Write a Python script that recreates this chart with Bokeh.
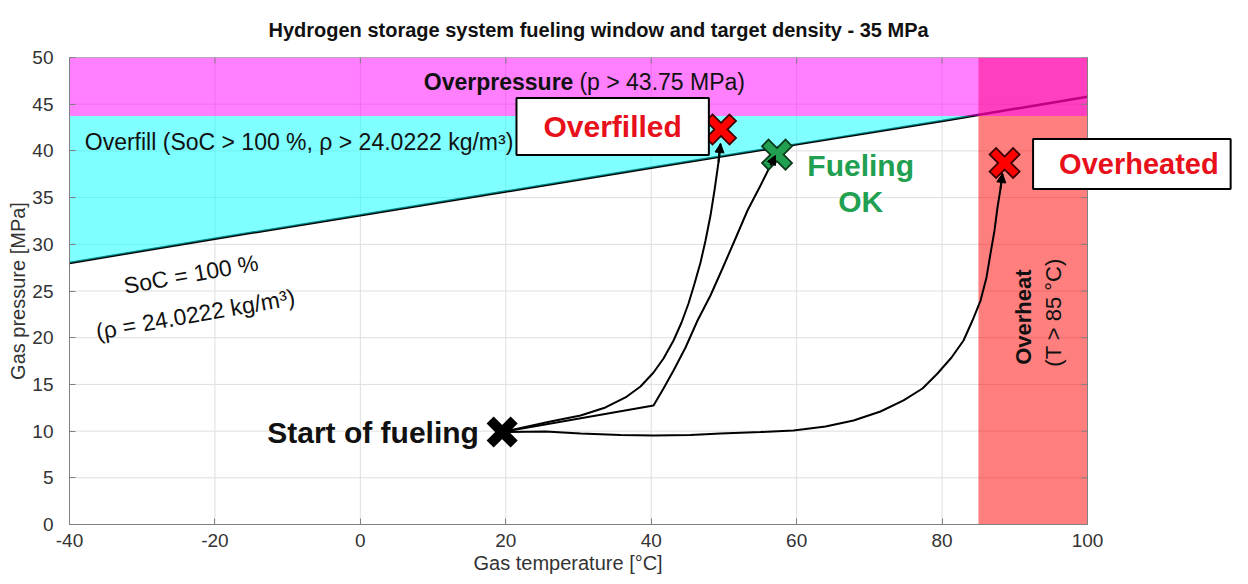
import numpy as np
from bokeh.plotting import figure
from bokeh.models import Range1d, FixedTicker, Label, Arrow, NormalHead, Title
from bokeh.core.properties import value
from bokeh.embed import file_html
from bokeh.resources import INLINE

# ---------------- data ----------------
title_text = "Hydrogen storage system fueling window and target density - 35 MPa"
x_label = "Gas temperature [°C]"
y_label = "Gas pressure [MPa]"
x_ticks = [-40, -20, 0, 20, 40, 60, 80, 100]
x_tick_labels = ["-40", "-20", "0", "20", "40", "60", "80", "100"]
y_ticks = [0, 5, 10, 15, 20, 25, 30, 35, 40, 45, 50]
t_min, t_max = -40, 100
p_min, p_max = 0, 50

# SoC = 100 % line (pressure vs temperature at target density)
soc_t = [-40, -20, 0, 20, 40, 60, 80, 100]
soc_p = [28.0, 30.6, 33.1, 35.65, 38.2, 40.7, 43.2, 45.8]

p_limit = 43.75   # overpressure limit [MPa]
t_limit = 85.0    # overheat limit [degC]

# fueling start and end states
start_t, start_p = 19.5, 9.9
end_names = ["Overfilled", "Fueling OK", "Overheated"]
end_t = [49.6, 57.3, 88.6]
end_p = [42.3, 39.6, 38.7]

# fueling trajectories
path_overfill_t = [19.5, 26.15, 30.28, 33.71, 36.46, 38.53, 40.32, 41.69, 43.07, 44.17, 45.13,
                   45.96, 46.78, 47.47, 48.15, 48.70, 49.25, 49.53]
path_overfill_p = [9.9, 11.03, 11.67, 12.53, 13.60, 14.78, 16.27, 17.77, 19.70, 21.63, 23.66,
                   25.80, 28.05, 30.41, 33.08, 35.76, 38.76, 40.79]
path_ok_t = [19.5, 40.32, 41.69, 43.07, 44.72, 46.37, 48.15, 49.80, 51.59, 53.24, 55.03, 56.40, 57.08]
path_ok_p = [9.9, 12.74, 14.56, 16.49, 18.95, 21.84, 24.52, 27.41, 30.62, 33.62, 36.30, 38.44, 39.51]
path_heat_t = [19.5, 25.46, 30.28, 35.78, 40.32, 45.40, 49.53, 55.03, 59.57, 63.97, 67.82, 71.53,
               74.70, 77.31, 79.37, 81.30, 82.95, 84.18, 85.29, 86.11, 86.66, 87.21, 87.62, 88.04, 88.31]
path_heat_p = [9.9, 9.96, 9.74, 9.58, 9.53, 9.58, 9.74, 9.90, 10.06, 10.49, 11.13, 12.10,
               13.28, 14.56, 16.17, 17.88, 19.70, 21.84, 23.98, 26.45, 29.01, 31.48, 33.94, 35.97, 37.58]

FONT = "Liberation Sans"
RED = "#E8101A"
GREEN = "#20A050"
AX = "#808080"
TXT = "#333333"

# frame: x=-40 at px 69, x=100 at px 1087, y=50 at px 57, y=0 at px 524; the frame is
# extended to the canvas edge so the "Overheated" box (outside the axes) is not clipped
W, H = 1232, 576
left_px, right_px, top_px, bottom_px = 69, 1087, 57, 524
px_per_x = (right_px - left_px) / (t_max - t_min)
px_per_y = (bottom_px - top_px) / (p_max - p_min)
x_end = t_min + (W - left_px) / px_per_x

p = figure(width=W, height=H, output_backend="svg", toolbar_location=None,
           x_range=Range1d(t_min, x_end), y_range=Range1d(p_min, p_max),
           min_border_left=left_px, min_border_right=0, min_border_top=top_px,
           min_border_bottom=H - bottom_px)
p.background_fill_color = "white"
p.border_fill_color = "white"
p.outline_line_color = None

# title
p.title.text = title_text
p.title.text_font = FONT
p.title.text_font_size = "20px"
p.title.text_font_style = "bold"
p.title.text_color = "#111111"
p.title.align = "left"
p.title.offset = 199
p.title.standoff = 33

# axes
for ax in (p.xaxis[0], p.yaxis[0]):
    ax.axis_line_color = AX
    ax.major_tick_line_color = AX
    ax.major_tick_in = 6
    ax.major_tick_out = 0
    ax.minor_tick_line_color = None
    ax.major_label_text_font = FONT
    ax.major_label_text_font_size = "19px"
    ax.major_label_text_color = TXT
p.xaxis.ticker = FixedTicker(ticks=x_ticks)
p.xaxis.major_label_overrides = {t: s for t, s in zip(x_ticks, x_tick_labels)}
p.yaxis.ticker = FixedTicker(ticks=y_ticks)
p.xaxis.bounds = (t_min, t_max)
p.xaxis.major_label_standoff = 9
p.yaxis.major_label_standoff = 16

p.yaxis.axis_label = y_label
p.yaxis.axis_label_text_font = FONT
p.yaxis.axis_label_text_font_size = "20px"
p.yaxis.axis_label_text_font_style = "normal"
p.yaxis.axis_label_text_color = TXT
p.yaxis.axis_label_standoff = 0

# x-axis label as a title below the axis, centred on the axes box
p.add_layout(Title(text=x_label, align="left", offset=404, text_font=FONT, text_font_size="20px",
                   text_font_style="normal", text_color=TXT, standoff=0), "below")

# grid (limited to the axes box)
p.xgrid.visible = False
p.ygrid.visible = False
p.segment(x0=x_ticks, x1=x_ticks, y0=p_min, y1=p_max, line_color="#dedede", line_width=1, level="underlay")
p.segment(x0=t_min, x1=t_max, y0=y_ticks, y1=y_ticks, line_color="#dedede", line_width=1, level="underlay")

# SoC line (drawn first so the tinted regions lie over it)
p.line(soc_t, soc_p, line_color="black", line_width=2.5)

# overheat region
p.quad(left=t_limit, right=t_max, bottom=p_min, top=p_max, fill_color="#FF0000", fill_alpha=0.5, line_color=None)

# overfill region: between SoC line and the overpressure limit
t_cross = float(np.interp(p_limit, soc_p, soc_t))
of_x = [t for t in soc_t if t < t_cross] + [t_cross, soc_t[0]]
of_y = [pp for t, pp in zip(soc_t, soc_p) if t < t_cross] + [p_limit, p_limit]
p.patch(of_x, of_y, fill_color="#00FFFF", fill_alpha=0.5, line_color=None)

# overpressure region
p.quad(left=t_min, right=t_max, bottom=p_limit, top=p_max, fill_color="#FF00FF", fill_alpha=0.5, line_color=None)

# axes box: top and right edges with inward ticks
p.segment(x0=[t_min, t_max], x1=[t_max, t_max], y0=[p_max, p_min], y1=[p_max, p_max], line_color=AX, line_width=1)
tick_dx = 6 / px_per_x
tick_dy = 6 / px_per_y
p.segment(x0=t_max - tick_dx, x1=t_max, y0=y_ticks, y1=y_ticks, line_color=AX, line_width=1)
p.segment(x0=x_ticks, x1=x_ticks, y0=p_max - tick_dy, y1=p_max, line_color=AX, line_width=1)

# trajectories
for tx, ty in ((path_overfill_t, path_overfill_p), (path_ok_t, path_ok_p), (path_heat_t, path_heat_p)):
    p.line(tx, ty, line_color="black", line_width=2)

# markers
p.scatter([start_t], [start_p], marker="x", size=24, line_width=10, line_color="black", line_cap="square")
p.scatter(end_t, end_p, marker="x", size=24, line_width=11,
          line_color=["#3a0000", "#0a3a1a", "#3a0000"], line_cap="square")
p.scatter(end_t, end_p, marker="x", size=24, line_width=7.5,
          line_color=["#FF0000", GREEN, "#FF0000"], line_cap="square")

# arrowheads
for tx, ty in ((path_overfill_t, path_overfill_p), (path_ok_t, path_ok_p), (path_heat_t, path_heat_p)):
    p.add_layout(Arrow(end=NormalHead(size=9, fill_color="black", line_color="black", line_width=1),
                       x_start=tx[-2], y_start=ty[-2], x_end=tx[-1], y_end=ty[-1],
                       line_color="black", line_width=2))

# region texts
p.text(x=[29.3], y=[47.4], text=["Overpressure"], text_font=value(FONT), text_font_size="23px",
       text_font_style="bold", text_align="right", text_baseline="middle", text_color="#111111")
p.text(x=[29.3], y=[47.4], text=["(p > 43.75 MPa)"], text_font=value(FONT), text_font_size="23px",
       text_align="left", text_baseline="middle", text_color="#111111", x_offset=6)
p.text(x=[-37.9], y=[41.0], text=["Overfill (SoC > 100 %, ρ > 24.0222 kg/m³)"], text_font=value(FONT),
       text_font_size="23px", text_align="left", text_baseline="middle", text_color="#111111")

ang = np.deg2rad(10)
p.text(x=[-23.3, -22.7], y=[26.8, 22.5], text=["SoC = 100 %", "(ρ = 24.0222 kg/m³)"],
       text_font=value(FONT), text_font_size="23px", text_align="center", text_baseline="middle",
       angle=ang, text_color="#111111")

p.text(x=[91.2], y=[22.2], text=["Overheat"], text_font=value(FONT), text_font_size="22px",
       text_font_style="bold", text_align="center", text_baseline="middle", angle=np.pi / 2,
       text_color="#111111")
p.text(x=[95.3], y=[22.7], text=["(T > 85 °C)"], text_font=value(FONT), text_font_size="22px",
       text_align="center", text_baseline="middle", angle=np.pi / 2, text_color="#111111")

p.text(x=[16.3], y=[9.85], text=["Start of fueling"], text_font=value(FONT), text_font_size="30px",
       text_font_style="bold", text_align="right", text_baseline="middle", text_color="#111111")
p.text(x=[68.8, 68.8], y=[38.4, 34.6], text=["Fueling", "OK"], text_font=value(FONT),
       text_font_size="30px", text_font_style="bold", text_align="center", text_baseline="middle",
       text_color=GREEN)

# boxed labels
p.add_layout(Label(x=34.7, y=42.6, text=end_names[0], text_font=FONT, text_font_size="30px",
                   text_font_style="bold", text_color=RED, text_align="center", text_baseline="middle",
                   background_fill_color="white", border_line_color="black", border_line_width=2,
                   padding=dict(left=27, right=27, top=12, bottom=12)))
p.add_layout(Label(x=106.1, y=38.6, text=end_names[2], text_font=FONT, text_font_size="29px",
                   text_font_style="bold", text_color=RED, text_align="center", text_baseline="middle",
                   background_fill_color="white", border_line_color="black", border_line_width=2,
                   padding=dict(left=26, right=12, top=9, bottom=9)))

open("out.html", "w").write(file_html(p, INLINE))
